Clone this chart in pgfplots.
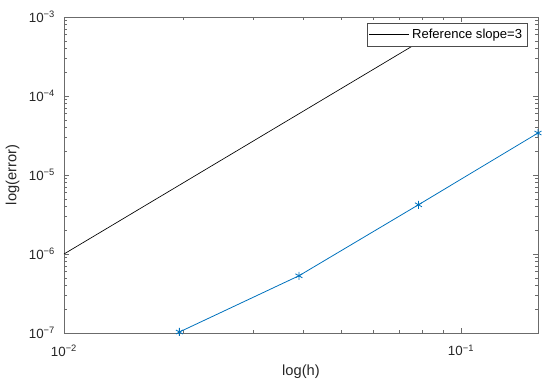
\documentclass[border=0pt]{standalone}
\usepackage{fontspec}
\setmainfont{Liberation Sans}
\usepackage{pgfplots}
\pgfplotsset{compat=1.18}
\definecolor{mblue}{rgb}{0,0.447,0.741}
\definecolor{axgray}{rgb}{0.42,0.42,0.42}
\begin{document}
\begin{tikzpicture}
\begin{loglogaxis}[
  scale only axis,
  width=355.5pt, height=237pt,
  xmin=0.01, xmax=0.15625, ymin=1e-7, ymax=1e-3,
  xtick={0.01,0.1},
  xticklabels={10\textsuperscript{−2},10\textsuperscript{−1}},
  ytick={1e-7,1e-6,1e-5,1e-4,1e-3},
  yticklabels={10\textsuperscript{−7},10\textsuperscript{−6},10\textsuperscript{−5},10\textsuperscript{−4},10\textsuperscript{−3}},
  minor xtick={0.02,0.03,0.04,0.05,0.06,0.07,0.08,0.09},
  minor ytick={2e-7,3e-7,4e-7,5e-7,6e-7,7e-7,8e-7,9e-7,
               2e-6,3e-6,4e-6,5e-6,6e-6,7e-6,8e-6,9e-6,
               2e-5,3e-5,4e-5,5e-5,6e-5,7e-5,8e-5,9e-5,
               2e-4,3e-4,4e-4,5e-4,6e-4,7e-4,8e-4,9e-4},
  tick align=inside,
  major tick length=3.8pt, minor tick length=2.2pt,
  axis line style={axgray},
  every tick/.style={axgray},
  tick label style={font=\fontsize{10}{11}\selectfont, text=black!85},
  xticklabel style={yshift=-5.2pt},
  yticklabel style={xshift=-3.2pt},
  label style={font=\fontsize{11}{12}\selectfont, text=black!85},
  xlabel={log(h)}, ylabel={log(error)},
  xlabel style={at={(axis description cs:0.5,-0.1234)}, anchor=center},
  ylabel style={at={(axis description cs:-0.1086,0.5)}, anchor=center},
  legend style={at={(0.977,0.982)}, anchor=north east, draw=black!70,
    font=\fontsize{9.8}{11}\selectfont, inner xsep=1.5pt, inner ysep=2.6pt},
  legend cell align=left,
  legend image code/.code={\draw[#1] (0cm,0cm) -- (1.05cm,0cm);},
]
\addplot[black, line width=0.5pt] coordinates {(0.01,1e-6) (0.085,6.14125e-4)};
\addlegendentry{Reference slope=3}
\addplot[mblue, line width=0.6pt, mark=asterisk, mark size=3pt, forget plot]
  coordinates {(0.01953125,1.03e-7) (0.0390625,5.3e-7) (0.078125,4.2e-6) (0.15625,3.4e-5)};
\end{loglogaxis}
\pgfresetboundingbox
\path (-48pt,-40.5pt) rectangle (364.5pt,249.75pt);
\end{tikzpicture}
\end{document}
